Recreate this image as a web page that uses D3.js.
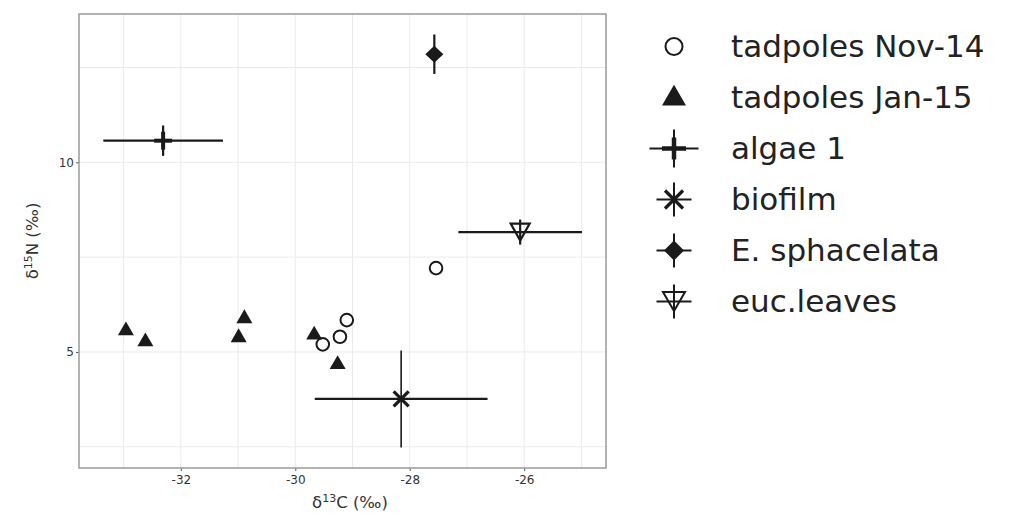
<!DOCTYPE html>
<html>
<head>
<meta charset="utf-8">
<script src="https://cdn.jsdelivr.net/npm/d3@7"></script>
<style>
  html, body { margin: 0; padding: 0; background: #fff; }
  svg { display: block; }
  text { font-family: "DejaVu Sans", Verdana, sans-serif; }
</style>
</head>
<body>
<svg id="chart" width="1024" height="529"></svg>
<script>
// ---------------- data ----------------
const xTicks = [-32, -30, -28, -26];
const yTicks = [5, 10];
const xMinor = [-33, -31, -29, -27, -25];
const yMinor = [2.5, 7.5, 12.5];

// tadpoles Nov-14 (open circles)
const nov14X = [-29.52, -29.22, -29.10, -27.54];
const nov14Y = [5.20, 5.40, 5.84, 7.21];

// tadpoles Jan-15 (filled triangles)
const jan15X = [-32.96, -32.62, -30.99, -30.89, -29.67, -29.26];
const jan15Y = [5.56, 5.27, 5.38, 5.88, 5.45, 4.67];

// sources: mean and error
const srcNames = ["algae 1", "biofilm", "E. sphacelata", "euc.leaves"];
const srcX     = [-32.31, -28.15, -27.57, -26.07];
const srcY     = [10.57, 3.76, 12.85, 8.16];
const srcXErr  = [1.045, 1.51, 0, 1.08];
const srcYErr  = [0.40, 1.28, 0.52, 0.33];

const legendLabels = ["tadpoles Nov-14", "tadpoles Jan-15", "algae 1", "biofilm", "E. sphacelata", "euc.leaves"];
const legendShapes = ["circle", "triangle", "plus", "asterisk", "diamond", "downtri"];

// ---------------- layout ----------------
const svg = d3.select("#chart");
const P = { left: 79, right: 606, top: 14, bottom: 468 };
const x = d3.scaleLinear().domain([-33.78, -24.57]).range([P.left, P.right]);
const y = d3.scaleLinear().domain([1.94, 13.91]).range([P.bottom, P.top]);
const ink = "#1a1a1a";

// grid
const grid = svg.append("g");
grid.selectAll(".vx").data(xMinor.concat(xTicks)).join("line")
  .attr("x1", d => x(d)).attr("x2", d => x(d))
  .attr("y1", P.top).attr("y2", P.bottom)
  .attr("stroke", "#ebebeb").attr("stroke-width", 1);
grid.selectAll(".hy").data(yMinor.concat(yTicks)).join("line")
  .attr("x1", P.left).attr("x2", P.right)
  .attr("y1", d => y(d)).attr("y2", d => y(d))
  .attr("stroke", "#ebebeb").attr("stroke-width", 1);

// axes
const fmt = d => String(d);
const xAxis = d3.axisBottom(x).tickValues(xTicks).tickSize(3).tickPadding(4).tickFormat(fmt);
const yAxis = d3.axisLeft(y).tickValues(yTicks).tickSize(3).tickPadding(2).tickFormat(fmt);
const gx = svg.append("g").attr("transform", `translate(0,${P.bottom})`).call(xAxis);
const gy = svg.append("g").attr("transform", `translate(${P.left},0)`).call(yAxis);
[gx, gy].forEach(g => {
  g.select(".domain").remove();
  g.selectAll(".tick line").attr("stroke", "#555");
  g.selectAll(".tick text").attr("fill", "#333").style("font-size", "12px")
    .style("font-family", "'DejaVu Sans', sans-serif");
});

// panel border
svg.append("rect")
  .attr("x", P.left).attr("y", P.top)
  .attr("width", P.right - P.left).attr("height", P.bottom - P.top)
  .attr("fill", "none").attr("stroke", "#9a9a9a").attr("stroke-width", 1.5);

// axis titles
const xt = svg.append("text").attr("x", 350).attr("y", 508)
  .attr("text-anchor", "middle").attr("fill", "#333").style("font-size", "16.5px");
xt.append("tspan").text("δ");
xt.append("tspan").attr("dy", -6).style("font-size", "11px").text("13");
xt.append("tspan").attr("dy", 6).text("C (‰)");

const yt = svg.append("text").attr("transform", `translate(38,${(P.top + P.bottom) / 2}) rotate(-90)`)
  .attr("text-anchor", "middle").attr("fill", "#333").style("font-size", "16.5px");
yt.append("tspan").text("δ");
yt.append("tspan").attr("dy", -6).style("font-size", "11px").text("15");
yt.append("tspan").attr("dy", 6).text("N (‰)");

// ---------------- shape helpers ----------------
function triUp(cx, cy, w) {
  const h = w * Math.sqrt(3) / 2;
  return `M${cx},${cy - 2 * h / 3}L${cx + w / 2},${cy + h / 3}L${cx - w / 2},${cy + h / 3}Z`;
}
function triDown(cx, cy, w, h) {
  return `M${cx - w / 2},${cy - h / 2}L${cx + w / 2},${cy - h / 2}L${cx},${cy + h / 2}Z`;
}
function diamond(cx, cy, w, h) {
  return `M${cx},${cy - h / 2}L${cx + w / 2},${cy}L${cx},${cy + h / 2}L${cx - w / 2},${cy}Z`;
}

const marks = svg.append("g");

// error bars for sources
srcNames.forEach((n, i) => {
  const cx = x(srcX[i]), cy = y(srcY[i]);
  if (srcXErr[i] > 0) {
    marks.append("line")
      .attr("x1", x(srcX[i] - srcXErr[i])).attr("x2", x(srcX[i] + srcXErr[i]))
      .attr("y1", cy).attr("y2", cy)
      .attr("stroke", ink).attr("stroke-width", 2.2);
  }
  if (srcYErr[i] > 0) {
    marks.append("line")
      .attr("x1", cx).attr("x2", cx)
      .attr("y1", y(srcY[i] - srcYErr[i])).attr("y2", y(srcY[i] + srcYErr[i]))
      .attr("stroke", ink).attr("stroke-width", n === "biofilm" ? 1.6 : 2.2);
  }
});

// markers
function drawMarker(g, shape, cx, cy) {
  if (shape === "plus") {
    const a = 9;
    g.append("line").attr("x1", cx - a).attr("x2", cx + a).attr("y1", cy).attr("y2", cy)
      .attr("stroke", ink).attr("stroke-width", 4);
    g.append("line").attr("x1", cx).attr("x2", cx).attr("y1", cy - a).attr("y2", cy + a)
      .attr("stroke", ink).attr("stroke-width", 4);
  } else if (shape === "asterisk") {
    const a = 7.5;
    g.append("line").attr("x1", cx - a).attr("x2", cx + a).attr("y1", cy - a).attr("y2", cy + a)
      .attr("stroke", ink).attr("stroke-width", 3.2);
    g.append("line").attr("x1", cx - a).attr("x2", cx + a).attr("y1", cy + a).attr("y2", cy - a)
      .attr("stroke", ink).attr("stroke-width", 3.2);
  } else if (shape === "diamond") {
    g.append("path").attr("d", diamond(cx, cy, 18, 17)).attr("fill", ink);
  } else if (shape === "downtri") {
    g.append("path").attr("d", triDown(cx, cy, 19, 17))
      .attr("fill", "none").attr("stroke", ink).attr("stroke-width", 2.2);
  } else if (shape === "circle") {
    g.append("circle").attr("cx", cx).attr("cy", cy).attr("r", 6.3)
      .attr("fill", "none").attr("stroke", ink).attr("stroke-width", 2);
  } else if (shape === "triangle") {
    g.append("path").attr("d", triUp(cx, cy, 16)).attr("fill", ink);
  }
}
const srcShapes = ["plus", "asterisk", "diamond", "downtri"];
srcNames.forEach((n, i) => drawMarker(marks, srcShapes[i], x(srcX[i]), y(srcY[i])));

// tadpoles
nov14X.forEach((v, i) => drawMarker(marks, "circle", x(v), y(nov14Y[i])));
jan15X.forEach((v, i) => drawMarker(marks, "triangle", x(v), y(jan15Y[i])));

// ---------------- legend ----------------
const leg = svg.append("g");
const legY = d3.scalePoint().domain(legendLabels).range([46.5, 301.5]);
const kx = 674;
legendLabels.forEach((lab, i) => {
  const cy = legY(lab);
  const shape = legendShapes[i];
  if (["plus", "asterisk", "diamond", "downtri"].includes(shape)) {
    const hw = shape === "plus" ? 24.5 : 17.5;
    const hh = shape === "plus" ? 19 : 17;
    leg.append("line").attr("x1", kx - hw).attr("x2", kx + hw).attr("y1", cy).attr("y2", cy)
      .attr("stroke", ink).attr("stroke-width", 2);
    leg.append("line").attr("x1", kx).attr("x2", kx).attr("y1", cy - hh).attr("y2", cy + hh)
      .attr("stroke", ink).attr("stroke-width", 2);
  }
  if (shape === "plus") {
    leg.append("line").attr("x1", kx - 12).attr("x2", kx + 12).attr("y1", cy).attr("y2", cy)
      .attr("stroke", ink).attr("stroke-width", 4.5);
    leg.append("line").attr("x1", kx).attr("x2", kx).attr("y1", cy - 11).attr("y2", cy + 11)
      .attr("stroke", ink).attr("stroke-width", 4.5);
  } else if (shape === "circle") {
    leg.append("circle").attr("cx", kx).attr("cy", cy).attr("r", 8.5)
      .attr("fill", "none").attr("stroke", ink).attr("stroke-width", 2);
  } else if (shape === "triangle") {
    leg.append("path").attr("d", triUp(kx, cy + 1, 24)).attr("fill", ink);
  } else if (shape === "asterisk") {
    const a = 9;
    leg.append("line").attr("x1", kx - a).attr("x2", kx + a).attr("y1", cy - a).attr("y2", cy + a)
      .attr("stroke", ink).attr("stroke-width", 3.2);
    leg.append("line").attr("x1", kx - a).attr("x2", kx + a).attr("y1", cy + a).attr("y2", cy - a)
      .attr("stroke", ink).attr("stroke-width", 3.2);
  } else if (shape === "diamond") {
    leg.append("path").attr("d", diamond(kx, cy, 20, 20)).attr("fill", ink);
  } else if (shape === "downtri") {
    leg.append("path").attr("d", triDown(kx, cy, 22, 19))
      .attr("fill", "none").attr("stroke", ink).attr("stroke-width", 2);
  }
  leg.append("text").attr("x", 731).attr("y", cy + 10.5)
    .attr("fill", "#222").style("font-size", "31px").text(lab);
});
</script>
</body>
</html>
